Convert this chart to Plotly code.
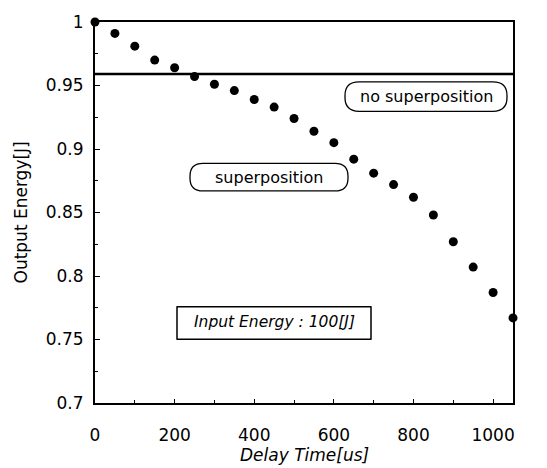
import plotly.graph_objects as go

delay_us = [0, 50, 100, 150, 200, 250, 300, 350, 400, 450, 500, 550,
            600, 650, 700, 750, 800, 850, 900, 950, 1000, 1050]
output_energy = [1.000, 0.991, 0.981, 0.970, 0.964, 0.957, 0.951, 0.946,
                 0.939, 0.933, 0.924, 0.914, 0.905, 0.892, 0.881, 0.872,
                 0.862, 0.848, 0.827, 0.807, 0.787, 0.767]
no_superposition_level = 0.959
x_range = [0, 1050]
y_range = [0.7, 1.0]
x_ticks = [0, 200, 400, 600, 800, 1000]
y_ticks = [0.7, 0.75, 0.8, 0.85, 0.9, 0.95, 1.0]
y_tick_text = ["0.7", "0.75", "0.8", "0.85", "0.9", "0.95", "1"]

W, H = 547, 468
ml, mr, mt, mb = 95, 34, 15, 65
pw, ph = W - ml - mr, H - mt - mb
ux = (x_range[1] - x_range[0]) / pw   # data units per pixel
uy = (y_range[1] - y_range[0]) / ph


def px_to_data(px, py):
    return x_range[0] + (px - ml) * ux, y_range[1] - (py - mt) * uy


def rounded_rect(x0p, y0p, x1p, y1p, r):
    # pixel box -> data-coordinate SVG path with rounded corners
    def P(px, py):
        x, y = px_to_data(px, py)
        return f"{x:.4f},{y:.6f}"
    return (f"M {P(x0p + r, y0p)} L {P(x1p - r, y0p)} "
            f"Q {P(x1p, y0p)} {P(x1p, y0p + r)} L {P(x1p, y1p - r)} "
            f"Q {P(x1p, y1p)} {P(x1p - r, y1p)} L {P(x0p + r, y1p)} "
            f"Q {P(x0p, y1p)} {P(x0p, y1p - r)} L {P(x0p, y0p + r)} "
            f"Q {P(x0p, y0p)} {P(x0p + r, y0p)} Z")


fig = go.Figure()
fig.add_trace(go.Scatter(
    x=delay_us, y=output_energy, mode="markers",
    marker=dict(color="black", size=9),
    cliponaxis=False, showlegend=False, hoverinfo="x+y"))

fig.add_shape(type="line", xref="x", yref="y",
              x0=x_range[0], x1=x_range[1],
              y0=no_superposition_level, y1=no_superposition_level,
              line=dict(color="black", width=2.5))

fig.add_shape(type="path", path=rounded_rect(345, 76, 507, 106, 14),
              line=dict(color="black", width=1.3))
fig.add_shape(type="path", path=rounded_rect(190, 159, 348, 187, 13),
              line=dict(color="black", width=1.3))
fig.add_shape(type="path", path=rounded_rect(177, 305, 371, 338, 0.01),
              line=dict(color="black", width=1.5))

font_wide = "DejaVu Sans, Arial, sans-serif"
for (px, py, txt, sz, it) in [(426, 91, "no superposition", 16, False),
                              (269, 173, "superposition", 16, False),
                              (274, 321, "Input Energy : 100[J]", 15.5, True)]:
    x, y = px_to_data(px, py)
    fig.add_annotation(x=x, y=y, xref="x", yref="y", text=txt, showarrow=False,
                       font=dict(family=font_wide, size=sz, color="black",
                                 style="italic" if it else "normal"))

fig.add_annotation(x=0.5, y=0, xref="paper", yref="paper", yanchor="middle",
                   yshift=-52, text="Delay Time[us]", showarrow=False,
                   font=dict(family=font_wide, size=17, color="black",
                             style="italic"))
fig.add_annotation(x=0, y=0.5, xref="paper", yref="paper", xanchor="center",
                   xshift=-75, text="Output Energy[J]", textangle=-90,
                   showarrow=False,
                   font=dict(family=font_wide, size=17, color="black"))

fig.update_xaxes(range=x_range, tickvals=x_ticks, showline=True, mirror=True,
                 linecolor="black", linewidth=2, ticks="inside", ticklen=4,
                 tickcolor="black", showgrid=False, zeroline=False,
                 ticklabelstandoff=16,
                 minor=dict(dtick=100, ticks="inside", ticklen=3,
                            tickcolor="black"),
                 tickfont=dict(family=font_wide, size=17, color="black"))
fig.update_yaxes(range=y_range, tickvals=y_ticks, ticktext=y_tick_text,
                 showline=True, mirror=True, linecolor="black", linewidth=2,
                 ticks="inside", ticklen=5, tickcolor="black", showgrid=False,
                 zeroline=False, ticklabelstandoff=6,
                 minor=dict(dtick=0.025, ticks="inside", ticklen=3,
                            tickcolor="black"),
                 tickfont=dict(family=font_wide, size=17, color="black"))

fig.update_layout(width=W, height=H,
                  margin=dict(l=ml, r=mr, t=mt, b=mb, pad=0),
                  plot_bgcolor="white", paper_bgcolor="white")
fig.write_html("out.html", config={"displayModeBar": False},
               post_script="document.body.style.margin='0';"
                           "document.body.style.overflow='hidden';")
